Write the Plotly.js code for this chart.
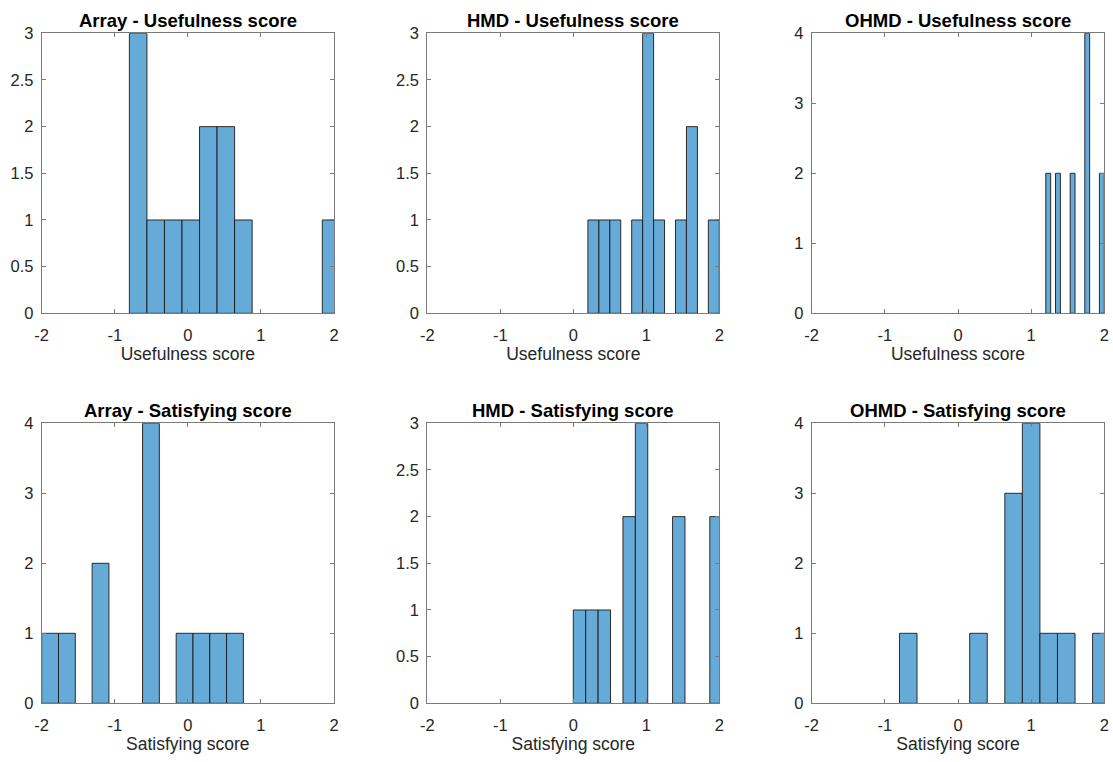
<!DOCTYPE html>
<html>
<head>
<meta charset="utf-8">
<script src="https://cdn.plot.ly/plotly-3.0.1.min.js"></script>
<style>
  html, body { margin: 0; padding: 0; background: #ffffff; }
  #chart { width: 1113px; height: 762px; }
</style>
</head>
<body>
<div id="chart"></div>
<script>
// ---------------- DATA ----------------
const panelTitles = [
  'Array - Usefulness score', 'HMD - Usefulness score', 'OHMD - Usefulness score',
  'Array - Satisfying score', 'HMD - Satisfying score', 'OHMD - Satisfying score'
];
const xAxisTitles = [
  'Usefulness score', 'Usefulness score', 'Usefulness score',
  'Satisfying score', 'Satisfying score', 'Satisfying score'
];
const xTickVals = [-2, -1, 0, 1, 2];
const xTickText = ['-2', '-1', '0', '1', '2'];

// histogram bins: first bin left edge, bin width, counts per bin
const arrayUsefulnessBinStart = -0.8;
const arrayUsefulnessBinWidth = 0.24;
const arrayUsefulnessCounts = [3, 1, 1, 1, 2, 2, 1, 0, 0, 0, 0, 1];

const hmdUsefulnessBinStart = 0.2;
const hmdUsefulnessBinWidth = 0.15;
const hmdUsefulnessCounts = [1, 1, 1, 0, 1, 3, 1, 0, 1, 2, 0, 1];

const ohmdUsefulnessBinStart = 1.2;
const ohmdUsefulnessBinWidth = 1 / 15;
const ohmdUsefulnessCounts = [2, 0, 2, 0, 0, 2, 0, 0, 4, 0, 0, 2];

const arraySatisfyingBinStart = -2.0;
const arraySatisfyingBinWidth = 0.23;
const arraySatisfyingCounts = [1, 1, 0, 2, 0, 0, 4, 0, 1, 1, 1, 1];

const hmdSatisfyingBinStart = 0.0;
const hmdSatisfyingBinWidth = 0.17;
const hmdSatisfyingCounts = [1, 1, 1, 0, 2, 3, 0, 0, 2, 0, 0, 2];

const ohmdSatisfyingBinStart = -0.8;
const ohmdSatisfyingBinWidth = 0.24;
const ohmdSatisfyingCounts = [1, 0, 0, 0, 1, 0, 3, 4, 1, 1, 0, 1];

const yAxisMax = [3, 3, 4, 4, 3, 4];
const yTickStep = [0.5, 0.5, 1, 1, 0.5, 1];

// ---------------- BUILD ----------------
const hists = [
  [arrayUsefulnessBinStart, arrayUsefulnessBinWidth, arrayUsefulnessCounts],
  [hmdUsefulnessBinStart, hmdUsefulnessBinWidth, hmdUsefulnessCounts],
  [ohmdUsefulnessBinStart, ohmdUsefulnessBinWidth, ohmdUsefulnessCounts],
  [arraySatisfyingBinStart, arraySatisfyingBinWidth, arraySatisfyingCounts],
  [hmdSatisfyingBinStart, hmdSatisfyingBinWidth, hmdSatisfyingCounts],
  [ohmdSatisfyingBinStart, ohmdSatisfyingBinWidth, ohmdSatisfyingCounts]
];

const W = 1113, H = 762;
// plot-area pixel boxes [left, right, top, bottom]
const colPx = [[41.7, 334], [427.3, 719.3], [811.7, 1104.3]];
const rowPx = [[33.3, 313.3], [423.3, 703.3]];

const barColor = '#66aad7';
const edgeColor = '#1a1a1a';
const axisColor = '#7a7a7a';
const textColor = '#262626';
const fontFamily = '"Liberation Sans", Arial, Helvetica, sans-serif';

const traces = [];
const layout = {
  width: W, height: H,
  margin: { l: 0, r: 0, t: 0, b: 0 },
  paper_bgcolor: '#ffffff',
  plot_bgcolor: '#ffffff',
  showlegend: false,
  font: { family: fontFamily, color: textColor, size: 16 },
  annotations: []
};

hists.forEach((h, i) => {
  const [start, width, counts] = h;
  const xs = [], ys = [];
  counts.forEach((c, k) => {
    if (c > 0) { xs.push(start + width * (k + 0.5)); ys.push(c); }
  });
  const n = i + 1;
  const sfx = n === 1 ? '' : String(n);
  traces.push({
    type: 'bar',
    x: xs, y: ys, width: width,
    xaxis: 'x' + sfx, yaxis: 'y' + sfx,
    marker: { color: barColor, line: { color: edgeColor, width: 0.9 } },
    hoverinfo: 'x+y'
  });
  const col = i % 3, row = Math.floor(i / 3);
  const [l, r] = colPx[col];
  const [t, b] = rowPx[row];
  layout['xaxis' + sfx] = {
    domain: [l / W, r / W],
    anchor: 'y' + sfx,
    range: [-2, 2],
    tickvals: xTickVals, ticktext: xTickText,
    ticks: 'inside', ticklen: 4, tickwidth: 1, tickcolor: axisColor,
    showline: true, linecolor: axisColor, linewidth: 1, mirror: 'ticks',
    showgrid: false, zeroline: false,
    tickfont: { size: 16.5, color: textColor, family: fontFamily },
    ticklabelstandoff: 7,
    title: { text: xAxisTitles[i], font: { size: 17.5, color: textColor, family: fontFamily }, standoff: 4 },
    fixedrange: true
  };
  layout['yaxis' + sfx] = {
    domain: [1 - b / H, 1 - t / H],
    anchor: 'x' + sfx,
    range: [0, yAxisMax[i]],
    tick0: 0, dtick: yTickStep[i],
    ticks: 'inside', ticklen: 4, tickwidth: 1, tickcolor: axisColor,
    showline: true, linecolor: axisColor, linewidth: 1, mirror: 'ticks',
    showgrid: false, zeroline: false,
    tickfont: { size: 16.5, color: textColor, family: fontFamily },
    ticklabelstandoff: 4,
    fixedrange: true
  };
  layout.annotations.push({
    text: panelTitles[i],
    xref: 'paper', yref: 'paper',
    x: (l + r) / 2 / W, y: 1 - t / H,
    xanchor: 'center', yanchor: 'bottom',
    showarrow: false,
    font: { size: 18.5, color: '#000000', family: fontFamily, weight: 'bold' }
  });
});

Plotly.newPlot('chart', traces, layout, { displayModeBar: false, staticPlot: true });
</script>
</body>
</html>
